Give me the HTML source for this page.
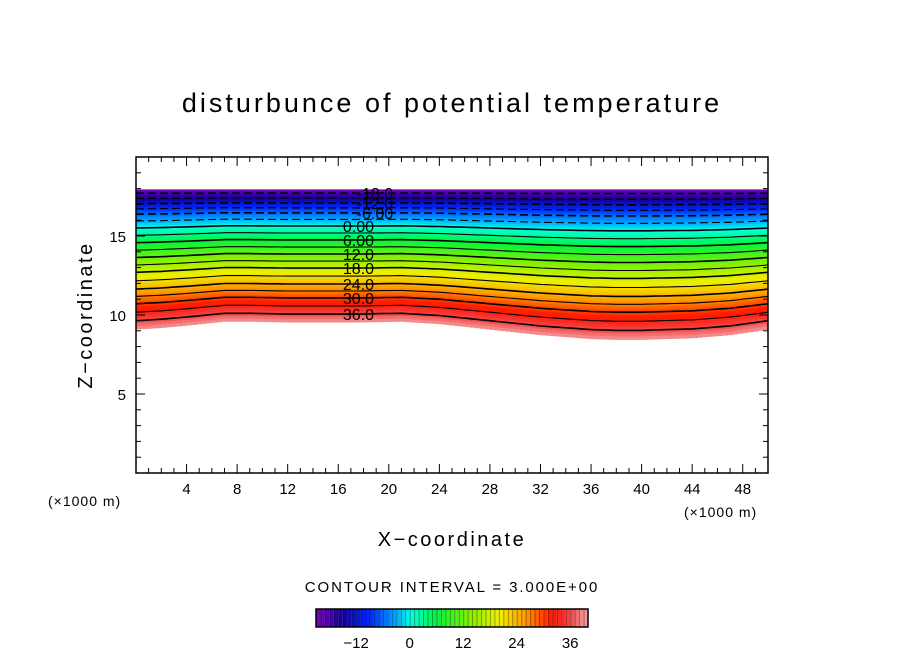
<!DOCTYPE html>
<html><head><meta charset="utf-8"><style>
body{margin:0;background:#fff;}
svg text{font-family:"Liberation Sans",sans-serif;fill:#000;}
</style></head><body>
<svg id="chart" width="904" height="654" xmlns="http://www.w3.org/2000/svg">
<rect width="904" height="654" fill="#fff"/>
<text x="452" y="112" font-size="27" text-anchor="middle" letter-spacing="3">disturbunce of potential temperature</text>
<g id="field"></g>
<g id="lines"></g>
<g id="labels"></g>
<rect x="136" y="157" width="632" height="316" fill="none" stroke="#000" stroke-width="1.5"/>
<g id="ticks"></g>
<text transform="translate(92,315) rotate(-90)" font-size="20" text-anchor="middle" letter-spacing="2.5">Z−coordinate</text>
<text x="452" y="546" font-size="20" text-anchor="middle" letter-spacing="2.5">X−coordinate</text>
<text x="48" y="506" font-size="14" letter-spacing="1">(×1000 m)</text>
<text x="684" y="517" font-size="14" letter-spacing="1">(×1000 m)</text>
<text x="452" y="592" font-size="15" text-anchor="middle" letter-spacing="1.9">CONTOUR INTERVAL = 3.000E+00</text>
<g id="cbar"></g>
</svg>
<script>
// data
const levels = [-21,-18,-15,-12,-9,-6,-3,0,3,6,9,12,15,18,21,24,27,30,33,36,39];
const levelZ = [17.95,17.72,17.4,17.09,16.78,16.46,16.05,15.63,15.19,14.75,14.3,13.86,13.41,12.97,12.46,11.96,11.52,11.08,10.57,10.06,9.55];
const dispXs = [0,2,4,7,9,12,17.6,21,24,28,32,36,38,40,44,47,50];
const dispVals = [-0.45,-0.35,-0.2,0.05,0.05,0,0,0.05,-0.1,-0.45,-0.8,-1.05,-1.1,-1.1,-1.0,-0.8,-0.45];
const labelLevels = [-18,-12,-6,0,6,12,18,24,30,36];
const labelTexts = ["-18.0","-12.0","-6.00","0.00","6.00","12.0","18.0","24.0","30.0","36.0"];
const xTicks = [4,8,12,16,20,24,28,32,36,40,44,48];
const yTicks = [5,10,15];
const cbarTicks = [-12,0,12,24,36];
const colorStops = [[-21,[128,0,190]],[-15,[20,0,150]],[-9,[0,40,255]],[-3,[0,170,255]],[0,[0,255,230]],[6,[0,245,60]],[14,[140,240,0]],[20,[240,240,0]],[26,[255,150,0]],[32,[255,20,0]],[36,[245,70,70]],[39,[245,150,150]]];

const NS='http://www.w3.org/2000/svg';
const X0=136,X1=768,Y0=473,Y1=157;
const sx=x=>X0+(x/50)*(X1-X0);
const sy=z=>Y0-(z/20)*(Y0-Y1);
function mk(t,a,p){const e=document.createElementNS(NS,t);for(const k in a)e.setAttribute(k,a[k]);p.appendChild(e);return e;}
function interp(xs,ys,x){if(x<=xs[0])return ys[0];for(let i=1;i<xs.length;i++){if(x<=xs[i]){const f=(x-xs[i-1])/(xs[i]-xs[i-1]);return ys[i-1]+f*(ys[i]-ys[i-1]);}}return ys[ys.length-1];}
function color(v){let i=1;while(i<colorStops.length-1&&v>colorStops[i][0])i++;const a=colorStops[i-1],b=colorStops[i];let f=(v-a[0])/(b[0]-a[0]);f=Math.max(0,Math.min(1,f));const c=a[1].map((q,k)=>Math.round(q+f*(b[1][k]-q)));return `rgb(${c[0]},${c[1]},${c[2]})`;}
const zTop=levelZ[0],zBot=levelZ[levelZ.length-1];
function levelHeight(lv,x){const z=interp(levels,levelZ,lv);const w=(zTop-z)/(zTop-zBot);return z+interp(dispXs,dispVals,x)*w;}

// field: sub-bands of 1 unit
const field=document.getElementById('field');
const dx=0.4;
for(let x=0;x<49.99;x+=dx){
  const xm=x+dx/2;
  for(let v=levels[0];v<levels[levels.length-1];v+=1){
    const zt=levelHeight(v,xm), zb=levelHeight(v+1,xm);
    const r=mk('rect',{x:sx(x).toFixed(2),y:sy(zt).toFixed(2),width:(Math.min(sx(x+dx),X1)-sx(x)+0.4).toFixed(2),height:(sy(zb)-sy(zt)+0.4).toFixed(2),fill:color(v+0.5)},field);
    
    
  }
}
// contour lines
const lines=document.getElementById('lines');
for(let i=1;i<levels.length-1;i++){
  const lv=levels[i];let d='';
  for(let x=0;x<=50.001;x+=0.5){d+=(x===0?'M':'L')+sx(x).toFixed(1)+','+sy(levelHeight(lv,x)).toFixed(1);}
  const p=mk('path',{d:d,fill:'none',stroke:'#000','stroke-width':lv%6===0?1.6:1.1},lines);
  if(lv<0)p.setAttribute('stroke-dasharray','8,4');
  
  
}
// labels
const labels=document.getElementById('labels');
labelLevels.forEach((lv,i)=>{
  const lx=lv<0?18.9:17.6;
  const y=sy(levelHeight(lv,lx));
  const t=mk('text',{x:sx(lx),y:y+6,'font-size':16,'text-anchor':'middle'},labels);
  t.textContent=labelTexts[i];
  
  
});
// ticks
const tk=document.getElementById('ticks');
for(let x=1;x<50;x++){const L=(x%4===0)?9:5;
  mk('line',{x1:sx(x),y1:Y0,x2:sx(x),y2:Y0-L,stroke:'#000'},tk);
  mk('line',{x1:sx(x),y1:Y1,x2:sx(x),y2:Y1+L,stroke:'#000'},tk);}
for(let z=1;z<20;z++){const L=(z%5===0)?9:5;
  mk('line',{x1:X0,y1:sy(z),x2:X0+L,y2:sy(z),stroke:'#000'},tk);
  mk('line',{x1:X1,y1:sy(z),x2:X1-L,y2:sy(z),stroke:'#000'},tk);}
xTicks.forEach(v=>{const t=mk('text',{x:sx(v),y:494,'font-size':15,'text-anchor':'middle'},tk);t.textContent=v;
  
  });
yTicks.forEach(v=>{const t=mk('text',{x:126,y:sy(v)+6,'font-size':15,'text-anchor':'end'},tk);t.textContent=v;
  
  });
// colorbar
const cb=document.getElementById('cbar');
const CB0=316,CB1=588,cv0=-21,cv1=40;
const cx=v=>CB0+(v-cv0)/(cv1-cv0)*(CB1-CB0);
for(let v=cv0;v<cv1;v+=1){
  const r=mk('rect',{x:cx(v),y:609,width:cx(v+1)-cx(v),height:18,fill:color(v+0.5)},cb);
  
  
  mk('line',{x1:cx(v)+0.5,y1:609,x2:cx(v)+0.5,y2:627,stroke:'rgba(0,0,0,0.35)','stroke-width':1},cb);
}
mk('rect',{x:CB0,y:609,width:CB1-CB0,height:18,fill:'none',stroke:'#000','stroke-width':1.5},cb);
cbarTicks.forEach(v=>{const t=mk('text',{x:cx(v),y:648,'font-size':15,'text-anchor':'middle'},cb);t.textContent=v<0?'−'+(-v):v;
  
  });
</script>
</body></html>
